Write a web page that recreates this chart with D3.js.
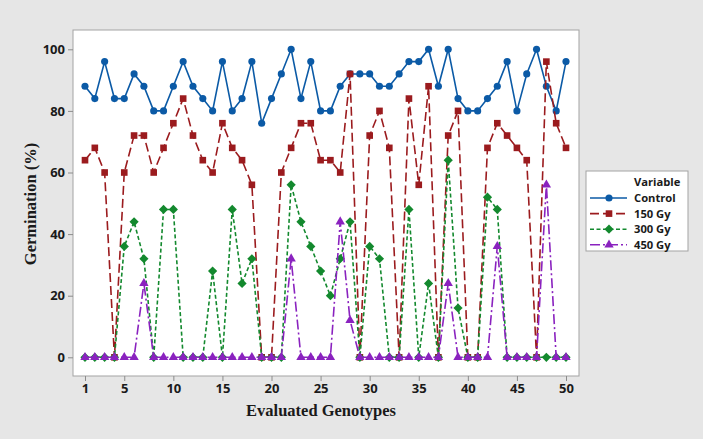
<!DOCTYPE html>
<html>
<head>
<meta charset="utf-8">
<script src="https://cdn.jsdelivr.net/npm/d3@7"></script>
<style>
  body { margin: 0; background: #e6e6e6; }
  svg { display: block; }
  .tick text { font-family: "Open Sans", sans-serif; font-weight: bold; font-size: 13px; fill: #1a1a1a; }
  .tick line { stroke: #8c8c8c; }
  .axis path.domain { display: none; }
</style>
</head>
<body>
<div id="chart"></div>
<script>
// genotype index (x categories)
const genotypes = [1,2,3,4,5,6,7,8,9,10,11,12,13,14,15,16,17,18,19,20,21,22,23,24,25,
                   26,27,28,29,30,31,32,33,34,35,36,37,38,39,40,41,42,43,44,45,46,47,48,49,50];

// germination (%) per series
const control = [88,84,96,84,84,92,88,80,80,88,96,88,84,80,96,80,84,96,76,84,92,100,84,96,80,
                 80,88,92,92,92,88,88,92,96,96,100,88,100,84,80,80,84,88,96,80,92,100,88,80,96];
const gy150   = [64,68,60,0,60,72,72,60,68,76,84,72,64,60,76,68,64,56,0,0,60,68,76,76,64,
                 64,60,92,0,72,80,68,0,84,56,88,0,72,80,0,0,68,76,72,68,64,0,96,76,68];
const gy300   = [0,0,0,0,36,44,32,0,48,48,0,0,0,28,0,48,24,32,0,0,0,56,44,36,28,
                 20,32,44,0,36,32,0,0,48,0,24,0,64,16,0,0,52,48,0,0,0,0,0,0,0];
const gy450   = [0,0,0,0,0,0,24,0,0,0,0,0,0,0,0,0,0,0,0,0,0,32,0,0,0,
                 0,44,12,0,0,0,0,0,0,0,0,0,24,0,0,0,0,36,0,0,0,0,56,0,0];

const seriesNames = ['Control', '150 Gy', '300 Gy', '450 Gy'];
const xTicks = [1,5,10,15,20,25,30,35,40,45,50];
const yTicks = [0,20,40,60,80,100];

const width = 703, height = 439;
const frame = {left: 73, top: 30, right: 579, bottom: 376};

const styles = [
  {color: '#0b5aa6', dash: null,      symbol: 'circle'},
  {color: '#9b1b1e', dash: '9,4',     symbol: 'square'},
  {color: '#13892e', dash: '4,2.5',   symbol: 'diamond'},
  {color: '#8a22bf', dash: '10,3,2,3', symbol: 'triangle'}
];

const series = [control, gy150, gy300, gy450].map((vals, i) => ({
  name: seriesNames[i],
  style: styles[i],
  points: vals.map((v, j) => ({x: genotypes[j], y: v}))
}));

const svg = d3.select('#chart').append('svg')
  .attr('width', width)
  .attr('height', height);

svg.append('rect')
  .attr('width', width).attr('height', height)
  .attr('fill', '#e6e6e6');

svg.append('rect')
  .attr('x', frame.left).attr('y', frame.top)
  .attr('width', frame.right - frame.left)
  .attr('height', frame.bottom - frame.top)
  .attr('fill', '#fff')
  .attr('stroke', '#a3a3a3');

const x = d3.scaleLinear().domain([1, 50]).range([85, 566]);
const y = d3.scaleLinear().domain([0, 100]).range([357.3, 49.3]);

svg.append('g')
  .attr('class', 'axis y')
  .attr('transform', 'translate(' + frame.left + ',0)')
  .call(d3.axisLeft(y).tickValues(yTicks).tickSize(5).tickPadding(3));

svg.append('g')
  .attr('class', 'axis x')
  .attr('transform', 'translate(0,' + frame.bottom + ')')
  .call(d3.axisBottom(x).tickValues(xTicks).tickSize(5).tickPadding(3));

function markerPath(kind){
  if(kind === 'circle') return d3.symbol(d3.symbolCircle, 40)();
  if(kind === 'square') return d3.symbol(d3.symbolSquare, 44)();
  if(kind === 'diamond') return 'M0,-4.6L4.6,0L0,4.6L-4.6,0Z';
  return d3.symbol(d3.symbolTriangle, 38)();
}

const line = d3.line().x(d => x(d.x)).y(d => y(d.y));

series.forEach(s => {
  const g = svg.append('g');
  g.append('path')
    .datum(s.points)
    .attr('d', line)
    .attr('fill', 'none')
    .attr('stroke', s.style.color)
    .attr('stroke-width', 1.6)
    .attr('stroke-dasharray', s.style.dash);
  g.selectAll('path.marker')
    .data(s.points)
    .enter().append('path')
    .attr('class', 'marker')
    .attr('d', markerPath(s.style.symbol))
    .attr('transform', d => 'translate(' + x(d.x) + ',' + y(d.y) + ')')
    .attr('fill', s.style.color);
});

// axis titles
svg.append('text')
  .attr('transform', 'translate(36,204) rotate(-90)')
  .attr('text-anchor', 'middle')
  .style('font-family', '"Liberation Serif", serif')
  .style('font-weight', 'bold')
  .style('font-size', '16.5px')
  .attr('fill', '#1a1a1a')
  .text('Germination (%)');

svg.append('text')
  .attr('x', 321).attr('y', 416)
  .attr('text-anchor', 'middle')
  .style('font-family', '"Liberation Serif", serif')
  .style('font-weight', 'bold')
  .style('font-size', '16.5px')
  .attr('fill', '#1a1a1a')
  .text('Evaluated Genotypes');

// legend
const legend = svg.append('g');
legend.append('rect')
  .attr('x', 586).attr('y', 171)
  .attr('width', 102).attr('height', 80)
  .attr('fill', '#fff')
  .attr('stroke', '#a3a3a3');

const legendFont = '"Open Sans", sans-serif';
legend.append('text')
  .attr('x', 634).attr('y', 186)
  .style('font-family', legendFont)
  .style('font-weight', 'bold')
  .style('font-size', '11.2px')
  .attr('fill', '#1a1a1a')
  .text('Variable');

series.forEach((s, i) => {
  const by = 202 + i * 15.6;
  const ly = by - 4;
  legend.append('line')
    .attr('x1', 590).attr('x2', 627)
    .attr('y1', ly).attr('y2', ly)
    .attr('stroke', s.style.color)
    .attr('stroke-width', 1.6)
    .attr('stroke-dasharray', s.style.dash);
  legend.append('path')
    .attr('d', markerPath(s.style.symbol))
    .attr('transform', 'translate(609,' + ly + ')')
    .attr('fill', s.style.color);
  legend.append('text')
    .attr('x', 634).attr('y', by)
    .style('font-family', legendFont)
    .style('font-weight', 'bold')
    .style('font-size', '11.2px')
    .attr('fill', '#1a1a1a')
    .text(s.name);
});
</script>
</body>
</html>
